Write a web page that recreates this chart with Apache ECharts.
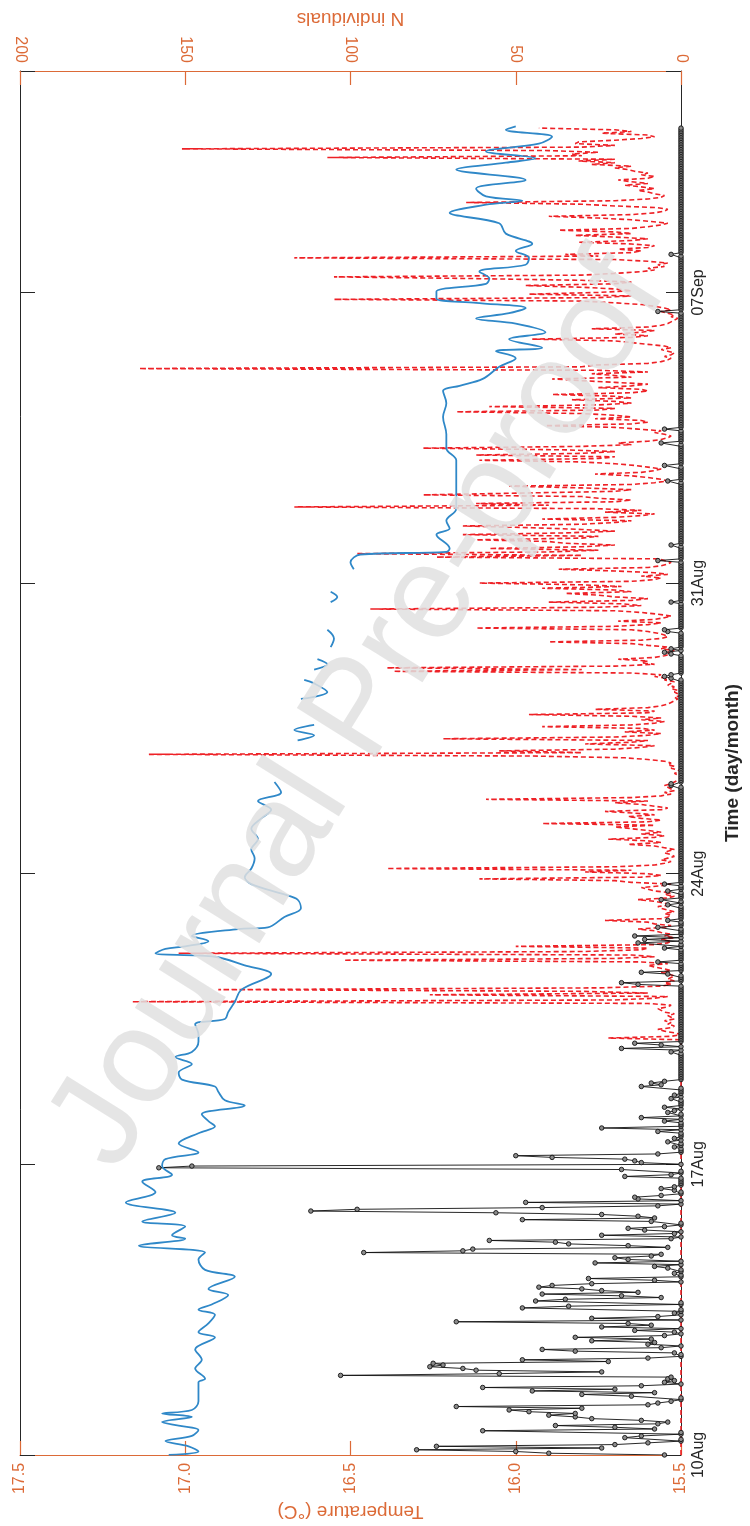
<!DOCTYPE html>
<html>
<head>
<meta charset="utf-8">
<script src="https://cdn.jsdelivr.net/npm/echarts@6/dist/echarts.min.js"></script>
<style>
  html, body { margin: 0; padding: 0; background: #fff; }
  #chart { width: 750px; height: 1526px; }
</style>
</head>
<body>
<div id="chart"></div>
<script>
// Time runs upward in hours from 10 Aug 00:00; one tick per week.
const timeTickLabels = ['10Aug', '17Aug', '24Aug', '31Aug', '07Sep'];
const hoursPerWeek = 168;

// Water temperature (°C) at the given hours; null marks missing records.
const tempHours = [
  0, 2, 5, 8, 11, 14.5, 17, 19, 22, 24, 26, 31, 42, 44, 50, 55, 61, 68, 71, 76,
  81, 84, 87, 92.5, 96, 103, 107, 113, 117, 121, 125, 127, 132, 135, 140, 146, 152, 158, 162, 167,
  171, 175, 180, 186, 190, 193, 197, 202, 205, 210, 213, 217, 221, 226, 230, 233, 239, 243, 249, 252,
  256, 262, 269, 278, 283, 288, 290, 292.5, 294, 297, 300, 304, 305, 311, 316, 321, 324, 330, 334, 339,
  345, 350, 356, 362, 368, 373, 378, 383, 389, 400,
  413, 416, 419, 422, 430,
  437, 441, 446, 448, 451,
  454, 457, 460, 463,
  467, 472, 477, 485,
  493, 496, 499, 505,
  512, 516, 520.5, 522, 524, 532, 535.5, 540, 547, 560, 567, 575, 582, 590, 600, 608, 615, 618, 622,
  629, 634, 638, 640, 645, 649, 654, 657, 660, 663, 666, 668.5, 672.5, 677, 680, 684, 688, 692, 696, 700,
  706, 712, 718, 723, 725, 727.5, 732, 737, 743, 747, 749.5, 753.5, 758, 762, 766, 768
];
const tempValues = [
  17.05, 16.96, 16.99, 17.06, 16.98, 16.96, 17.02, 17.07, 16.98, 17.07, 16.98, 16.96, 16.96, 16.94, 16.97, 16.95, 16.97, 16.91, 16.96, 16.93,
  16.91, 16.96, 16.92, 16.87, 16.93, 16.85, 16.94, 16.96, 16.94, 17.14, 17.00, 17.04, 17.00, 17.13, 17.03, 17.18, 17.09, 17.13, 17.04, 17.07,
  17.06, 16.96, 17.02, 16.96, 16.91, 16.93, 16.95, 16.82, 16.88, 16.90, 16.91, 17.01, 17.02, 16.98, 17.03, 16.98, 16.96, 16.96, 16.97, 16.88,
  16.87, 16.85, 16.83, 16.74, 16.82, 16.91, 17.09, 17.06, 17.00, 16.93, 16.98, 16.84, 16.75, 16.70, 16.65, 16.66, 16.70, 16.80, 16.82, 16.80,
  16.79, 16.80, 16.78, 16.80, 16.77, 16.74, 16.78, 16.71, 16.73, null,
  16.66, 16.61, 16.67, 16.61, null,
  16.65, 16.57, 16.61, 16.64, null,
  16.61, 16.57, 16.60, null,
  16.56, 16.55, 16.57, null,
  16.56, 16.54, 16.56, null,
  16.49, 16.50, 16.47, 16.21, 16.20, 16.24, 16.20, 16.21, 16.18, 16.18, 16.18, 16.18, 16.21, 16.21, 16.22, 16.21, 16.22, 16.17, 16.10,
  16.05, 16.00, 16.06, 15.92, 16.02, 15.91, 16.00, 16.12, 16.02, 15.97, 16.12, 16.24, 16.24, 16.09, 16.08, 16.11, 15.97, 15.96, 16.00, 15.95,
  16.03, 16.05, 16.20, 16.08, 15.98, 16.09, 16.12, 15.97, 16.18, 16.03, 15.94, 16.09, 15.93, 15.89, 16.03, 16.00
];

// Hourly counts (N individuals), one row per day, dashed red series.
const individualsDashed = [
  0,0,0,0,0,0,0,0,0,0,0,0,0,0,0,0,0,0,0,0,0,0,0,0,
  0,0,0,0,0,0,0,0,0,0,0,0,0,0,0,0,0,0,0,0,0,0,0,0,
  0,0,0,0,0,0,0,0,0,0,0,0,0,0,0,0,0,0,0,0,0,0,0,0,
  0,0,0,0,0,0,0,0,0,0,0,0,0,0,0,0,0,0,0,0,0,0,0,0,
  0,0,0,0,0,0,0,0,0,0,0,0,0,0,0,0,0,0,0,0,0,0,0,0,
  0,0,0,0,0,0,0,0,0,0,0,0,0,0,0,0,0,0,0,0,0,0,0,0,
  0,0,0,0,0,0,0,0,0,0,0,0,0,0,0,0,0,0,0,0,0,0,0,0,
  0,0,0,0,0,0,0,0,0,0,0,0,0,0,0,0,0,0,0,0,0,0,0,0,
  0,0,0,0,0,0,0,0,0,0,0,0,0,0,0,0,0,0,0,0,0,0,0,0,
  0,0,0,0,0,0,0,0,0,0,0,0,0,0,0,0,0,0,0,0,0,0,0,0,
  0,22,3,0,2,5,7,3,2,4,3,5,2,3,4,2,5,6,7,4,3,10,166,20,
  8,4,76,10,30,140,25,6,3,5,2,4,3,2,4,6,3,5,8,10,4,12,102,20,
  8,15,152,30,12,10,50,8,4,3,6,2,5,3,6,8,13,5,3,8,10,23,6,4,
  3,5,2,4,6,7,3,5,8,13,4,2,5,3,8,10,12,6,3,15,20,61,12,6,
  10,29,15,89,20,8,5,3,6,4,2,3,5,4,2,5,8,16,6,10,22,8,5,12,
  6,10,15,20,8,42,10,6,12,16,8,14,23,6,4,8,12,20,10,59,15,6,3,5,
  2,3,4,5,3,2,1,0,0,1,2,0,1,3,2,4,3,5,10,17,45,161,30,55,
  20,12,8,29,15,10,72,20,10,6,17,8,12,42,15,8,5,12,6,15,46,10,8,26,
  10,6,4,3,2,1,2,0,1,2,1,3,2,4,3,2,5,4,8,6,15,87,30,89,
  20,8,12,10,19,8,5,3,4,2,6,4,10,15,40,12,6,4,5,7,10,15,62,20,
  10,6,19,8,5,3,7,12,20,94,25,12,18,40,15,10,20,25,35,15,20,42,18,30,
  61,15,8,6,12,4,8,20,37,10,6,4,3,5,7,74,30,98,40,25,58,30,20,35,
  40,62,30,25,66,35,20,30,45,66,30,20,15,42,20,12,8,23,12,25,117,40,62,20,
  15,25,30,78,49,20,15,30,52,15,8,4,6,10,15,26,12,8,6,10,14,20,30,61,
  25,20,62,30,20,35,78,30,15,19,10,6,4,3,5,8,6,13,20,41,15,10,12,26,
  15,20,30,68,25,20,58,25,15,20,33,15,20,39,15,10,12,25,15,10,20,30,39,15,
  20,27,10,25,164,30,26,10,6,4,3,5,3,2,4,6,3,5,10,15,20,45,15,10,
  20,12,8,27,10,6,4,3,2,1,3,2,4,6,3,5,8,12,20,30,105,25,15,46,
  25,15,20,30,47,20,15,30,62,105,30,20,12,8,10,5,7,4,10,20,117,25,35,15,
  12,19,10,8,15,31,15,10,20,32,15,20,37,15,10,6,4,9,15,25,40,15,8,5,
  4,7,20,30,65,20,10,6,5,8,10,13,8,12,17,10,15,19,10,8,12,10,14,16,
  20,15,27,20,31,20,107,30,33,25,40,151,30,20,32,31,20,12,8,10,24,15,20,43
];

// Hourly counts (N individuals), one row per day, black series with markers.
const individualsMarked = [
  5,40,50,80,24,74,20,10,0,0,17,12,0,0,60,8,20,38,7,4,12,27,32,40,
  32,46,52,30,68,10,7,3,0,0,15,30,8,45,20,60,12,0,5,2,4,3,103,55,
  24,62,66,76,72,75,22,48,10,0,0,2,32,42,6,0,10,8,27,9,32,5,0,2,
  14,0,24,9,16,68,0,27,7,0,2,0,0,48,34,0,0,44,35,6,18,42,13,24,
  30,43,39,27,0,8,28,0,0,2,0,0,4,8,0,26,0,16,20,9,6,96,66,63,
  4,16,34,38,58,3,0,24,2,0,11,16,5,0,0,9,48,8,13,24,56,112,98,42,
  7,0,47,0,13,14,6,0,0,2,6,2,0,0,0,0,0,17,3,0,0,18,158,148,
  0,12,14,17,39,50,7,0,0,0,2,0,0,4,0,2,0,0,0,7,0,24,0,0,
  0,5,0,12,0,0,4,2,0,5,0,0,0,0,3,0,2,0,0,0,0,12,6,9,
  5,0,0,0,0,0,0,0,0,0,0,0,0,0,0,0,0,3,0,18,0,6,14,0,
  0,0,0,0,0,0,0,0,0,0,0,0,0,0,0,0,0,0,0,0,0,0,0,0,
  0,0,0,0,0,0,0,0,13,18,0,0,0,0,4,12,0,0,0,0,0,7,0,0,
  0,0,0,0,0,5,0,0,13,0,11,0,14,0,0,0,0,7,0,0,0,4,0,0,
  0,0,0,0,0,0,4,0,0,6,0,0,0,0,4,0,0,0,5,0,0,0,0,0,
  0,0,0,0,0,0,0,0,0,0,0,0,0,0,0,0,0,0,0,0,0,0,0,0,
  0,0,0,0,0,0,0,0,0,0,0,0,0,0,0,0,0,0,0,0,0,0,0,0,
  0,0,0,3,3,0,0,0,0,0,0,0,0,0,0,0,0,0,0,0,0,0,0,0,
  0,0,0,0,0,0,0,0,0,0,0,0,0,0,0,0,0,0,0,0,0,0,0,0,
  0,0,0,0,0,0,0,0,0,0,0,0,0,0,0,0,0,3,5,3,0,0,0,0,
  0,0,0,0,0,0,0,3,5,0,3,0,0,0,0,0,0,0,0,0,4,5,0,0,
  0,0,0,0,0,0,0,0,0,0,0,0,0,3,0,0,0,0,0,0,0,0,0,0,
  0,0,0,0,0,0,0,0,0,0,0,0,0,7,0,0,0,0,0,0,0,0,3,0,
  0,0,0,0,0,0,0,0,0,0,0,0,0,0,0,0,0,0,0,0,0,0,0,0,
  0,0,0,0,0,0,0,0,0,0,0,4,0,0,0,0,0,0,0,0,5,0,0,0,
  0,0,0,0,0,0,0,0,0,6,0,0,0,0,0,0,0,5,0,0,0,0,0,0,
  0,0,0,0,0,0,0,0,0,0,0,0,0,0,0,0,0,0,0,0,0,0,0,0,
  0,0,0,0,0,0,0,0,0,0,0,0,0,0,0,0,0,0,0,0,0,0,0,0,
  0,0,0,0,0,0,0,0,0,0,0,0,0,7,0,0,0,0,0,0,0,0,0,0,
  0,0,0,0,0,0,0,0,0,0,0,0,0,0,0,0,0,0,0,0,0,0,3,0,
  0,0,0,0,0,0,0,0,0,0,0,0,0,0,0,0,0,0,0,0,0,0,0,0,
  0,0,0,0,0,0,0,0,0,0,0,0,0,0,0,0,0,0,0,0,0,0,0,0,
  0,0,0,0,0,0,0,0,0,0,0,0,0,0,0,0,0,0,0,0,0,0,0,0
];

const ORANGE = '#dc6a37';
const INK = '#262626';
const FONT = '"Liberation Sans", Arial, Helvetica, sans-serif';

const chart = echarts.init(document.getElementById('chart'), null, { renderer: 'canvas' });

const timeAxisBase = {
  type: 'value',
  min: 0,
  max: 800,
  interval: hoursPerWeek,
  splitLine: { show: false },
  axisLine: { show: true, lineStyle: { color: INK, width: 1 } },
  axisTick: { show: true, inside: true, length: 15, lineStyle: { color: INK, width: 1 } }
};

chart.setOption({
  animation: false,
  backgroundColor: '#ffffff',
  textStyle: { fontFamily: FONT },
  grid: { left: 20, right: 64, top: 71, bottom: 71, containLabel: false },
  xAxis: [
    {
      type: 'value',
      position: 'bottom',
      min: 15.5,
      max: 17.5,
      interval: 0.5,
      inverse: true,
      splitLine: { show: false },
      axisLine: { show: true, onZero: false, lineStyle: { color: ORANGE, width: 1.2 } },
      axisTick: { show: true, inside: true, length: 14, lineStyle: { color: ORANGE, width: 1.2 } },
      axisLabel: { rotate: 90, margin: 8, color: ORANGE, fontSize: 16, formatter: v => v.toFixed(1) },
      name: 'Temperature (°C)',
      nameLocation: 'middle',
      nameRotate: 180,
      nameGap: 44,
      nameTextStyle: { color: ORANGE, fontSize: 19 }
    },
    {
      type: 'value',
      position: 'top',
      min: 0,
      max: 200,
      interval: 50,
      inverse: true,
      splitLine: { show: false },
      axisLine: { show: true, onZero: false, lineStyle: { color: ORANGE, width: 1.2 } },
      axisTick: { show: true, inside: true, length: 14, lineStyle: { color: ORANGE, width: 1.2 } },
      axisLabel: { rotate: 90, margin: 8, color: ORANGE, fontSize: 16 },
      name: 'N individuals',
      nameLocation: 'middle',
      nameRotate: 180,
      nameGap: 43,
      nameTextStyle: { color: ORANGE, fontSize: 19 }
    }
  ],
  yAxis: [
    Object.assign({}, timeAxisBase, {
      position: 'right',
      axisLabel: {
        rotate: 90,
        margin: 10,
        color: INK,
        fontSize: 16,
        formatter: v => (v % hoursPerWeek === 0 ? timeTickLabels[v / hoursPerWeek] || '' : '')
      },
      name: 'Time (day/month)',
      nameLocation: 'middle',
      nameGap: 42,
      nameTextStyle: { color: INK, fontSize: 19, fontWeight: 'bold' }
    }),
    Object.assign({}, timeAxisBase, {
      position: 'left',
      axisLabel: { show: false }
    })
  ],
  graphic: [
    {
      type: 'text',
      z: 100,
      x: 360,
      y: 712,
      rotation: 58 * Math.PI / 180,
      style: {
        text: 'Journal Pre-proof',
        font: '135px ' + FONT,
        fill: '#e1e1e1',
        opacity: 0.85,
        align: 'center',
        verticalAlign: 'middle'
      },
      silent: true
    }
  ],
  series: [
    {
      name: 'dashed counts',
      type: 'line',
      xAxisIndex: 1,
      yAxisIndex: 0,
      z: 2,
      showSymbol: false,
      data: individualsDashed.map((n, h) => [n, h]),
      lineStyle: { color: '#ee2126', width: 1.6, type: [5, 3] }
    },
    {
      name: 'marked counts',
      type: 'line',
      xAxisIndex: 1,
      yAxisIndex: 0,
      z: 3,
      symbol: 'circle',
      symbolSize: 4.5,
      showSymbol: true,
      data: individualsMarked.map((n, h) => [n, h]),
      itemStyle: { color: '#8c8c8c', borderColor: '#111111', borderWidth: 0.9 },
      lineStyle: { color: '#111111', width: 0.9 }
    },
    {
      name: 'temperature',
      type: 'line',
      xAxisIndex: 0,
      yAxisIndex: 0,
      z: 4,
      showSymbol: false,
      smooth: 0.35,
      connectNulls: false,
      data: tempHours.map((h, i) => [tempValues[i], h]),
      lineStyle: { color: '#2f88c8', width: 1.8 }
    }
  ]
});
</script>
</body>
</html>
